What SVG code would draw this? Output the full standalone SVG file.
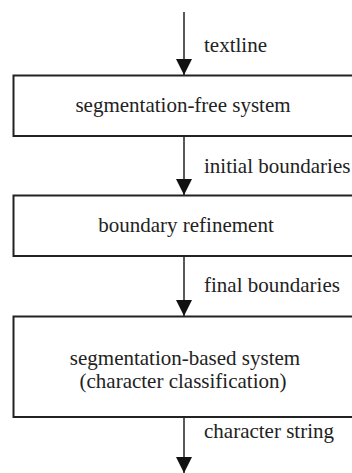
<svg xmlns="http://www.w3.org/2000/svg" width="352" height="473" viewBox="0 0 352 473">
<style>
.box{fill:#fff;stroke:#222;stroke-width:2}
.t{font-family:"Liberation Serif","Times New Roman",serif;font-size:21px;fill:#222}
.c{text-anchor:middle}
.ln{stroke:#222;stroke-width:1.5;fill:none}
</style>
<defs>
<marker id="ah" markerUnits="userSpaceOnUse" markerWidth="16" markerHeight="17" refX="16" refY="8" orient="auto" viewBox="0 0 16 16">
<path d="M0,0 L16,8 L0,16 Z" fill="#111"/>
</marker>
</defs>
<rect width="352" height="473" fill="#fff"/>
<g id="connectors">
<line class="ln" x1="184" y1="12" x2="184" y2="75" marker-end="url(#ah)"/>
<line class="ln" x1="184" y1="136" x2="184" y2="195" marker-end="url(#ah)"/>
<line class="ln" x1="184" y1="256" x2="184" y2="316" marker-end="url(#ah)"/>
<line class="ln" x1="184" y1="417" x2="184" y2="473" marker-end="url(#ah)"/>
<text class="t" x="204" y="52">textline</text>
<text class="t" x="204" y="173">initial boundaries</text>
<text class="t" x="204" y="292">final boundaries</text>
<text class="t" x="204" y="438">character string</text>
</g>
<g id="n1">
<rect class="box" x="13.5" y="75.5" width="345" height="60.5"/>
<text class="t c" x="183" y="112">segmentation-free system</text>
</g>
<g id="n2">
<rect class="box" x="13.5" y="195.5" width="345" height="60.5"/>
<text class="t c" x="186" y="232">boundary refinement</text>
</g>
<g id="n3">
<rect class="box" x="13.5" y="316.5" width="345" height="100.5"/>
<text class="t c" x="185" y="365">segmentation-based system</text>
<text class="t c" x="183" y="388">(character classification)</text>
</g>
</svg>
